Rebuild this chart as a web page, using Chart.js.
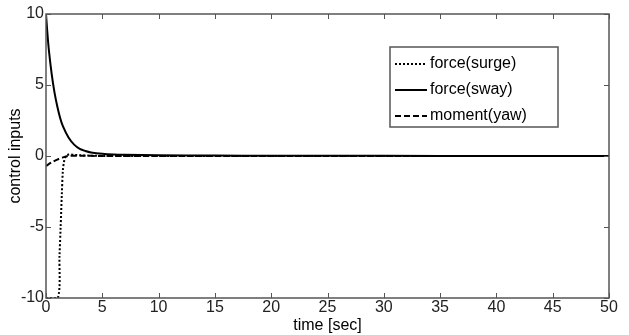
<!DOCTYPE html>
<html>
<head>
<meta charset="utf-8">
<script src="https://cdn.jsdelivr.net/npm/chart.js@4/dist/chart.umd.min.js"></script>
<style>
  html, body { margin: 0; padding: 0; background: #fff; }
  #wrap { width: 629px; height: 335px; position: relative; }
</style>
</head>
<body>
<div id="wrap"><canvas id="chart"></canvas></div>
<script>
// values
const xTicks = [0, 5, 10, 15, 20, 25, 30, 35, 40, 45, 50];
const yTicks = [-10, -5, 0, 5, 10];

const surgeTime = [0, 1.05, 1.2, 1.3, 1.4, 1.5, 1.6, 1.7, 2.0, 2.5, 3, 4, 6, 10, 20, 30, 40, 50];
const surgeVals = [-10, -10, -7, -5, -2.8, -1, -0.4, -0.1, 0.1, 0.08, 0.05, 0.02, 0, 0, 0, 0, 0, 0];

const swayTime = [0, 0.1, 0.25, 0.5, 0.75, 1, 1.25, 1.5, 2, 2.5, 3, 3.5, 4, 5, 6, 7, 10, 15, 20, 30, 40, 50];
const swayVals = [10, 8.9, 7.5, 5.8, 4.5, 3.5, 2.7, 2.1, 1.3, 0.8, 0.5, 0.35, 0.25, 0.15, 0.1, 0.08, 0.05, 0.03, 0.02, 0.01, 0, 0];

const yawTime = [0, 0.5, 1, 1.5, 2, 3, 5, 10, 20, 30, 40, 50];
const yawVals = [-0.7, -0.45, -0.25, -0.1, 0, 0.02, 0, 0, 0, 0, 0, 0];

const labels = ['force(surge)', 'force(sway)', 'moment(yaw)'];
const dashes = [[2, 2], [], [6, 3]];

const toPts = (t, v) => t.map((x, i) => ({ x: x, y: v[i] }));

const FONT = 'Liberation Sans, Arial, sans-serif';

// box, inward ticks on all four sides, and the legend box
const matlabFrame = {
    id: 'matlabFrame',
    afterDatasetsDraw(chart) {
        const { ctx, chartArea: a, scales } = chart;
        ctx.save();
        ctx.strokeStyle = '#555';
        ctx.lineWidth = 1.5;
        ctx.setLineDash([]);
        ctx.strokeRect(a.left, a.top, a.right - a.left, a.bottom - a.top);
        ctx.lineWidth = 1;
        const len = 5;
        xTicks.forEach(v => {
            const px = Math.round(scales.x.getPixelForValue(v)) + 0.5;
            ctx.beginPath();
            ctx.moveTo(px, a.bottom); ctx.lineTo(px, a.bottom - len);
            ctx.moveTo(px, a.top); ctx.lineTo(px, a.top + len);
            ctx.stroke();
        });
        yTicks.forEach(v => {
            const py = Math.round(scales.y.getPixelForValue(v)) + 0.5;
            ctx.beginPath();
            ctx.moveTo(a.left, py); ctx.lineTo(a.left + len, py);
            ctx.moveTo(a.right, py); ctx.lineTo(a.right - len, py);
            ctx.stroke();
        });

        // legend
        const bx = 390, by = 47, bw = 168, bh = 80;
        ctx.fillStyle = '#fff';
        ctx.fillRect(bx, by, bw, bh);
        ctx.strokeStyle = '#555';
        ctx.lineWidth = 1.5;
        ctx.strokeRect(bx, by, bw, bh);
        ctx.font = '16px ' + FONT;
        ctx.textBaseline = 'middle';
        ctx.fillStyle = '#000';
        labels.forEach((lab, i) => {
            const y = by + 17 + i * 26;
            ctx.strokeStyle = '#000';
            ctx.lineWidth = 2;
            ctx.setLineDash(dashes[i]);
            ctx.beginPath();
            ctx.moveTo(bx + 5, y); ctx.lineTo(bx + 37, y);
            ctx.stroke();
            ctx.setLineDash([]);
            ctx.fillText(lab, bx + 40, y);
        });
        ctx.restore();
    }
};

new Chart(document.getElementById('chart').getContext('2d'), {
    type: 'line',
    data: {
        datasets: [
            { label: labels[0], data: toPts(surgeTime, surgeVals), borderDash: dashes[0] },
            { label: labels[1], data: toPts(swayTime, swayVals), borderDash: dashes[1] },
            { label: labels[2], data: toPts(yawTime, yawVals), borderDash: dashes[2] }
        ].map(d => Object.assign(d, {
            borderColor: '#000',
            borderWidth: 2,
            pointRadius: 0,
            tension: 0.3,
            fill: false
        }))
    },
    options: {
        responsive: true,
        maintainAspectRatio: false,
        animation: false,
        layout: { padding: { top: 14, right: 20, left: 0, bottom: 0 } },
        plugins: {
            legend: { display: false },
            tooltip: { enabled: false }
        },
        scales: {
            x: {
                type: 'linear',
                min: 0,
                max: 50,
                afterBuildTicks: s => { s.ticks = xTicks.map(v => ({ value: v })); },
                afterFit: s => { s.height = 37; },
                grid: { display: false, drawTicks: false },
                border: { display: false },
                ticks: { color: '#222', font: { family: FONT, size: 16 }, padding: 0, maxRotation: 0 },
                title: { display: true, text: 'time [sec]', color: '#000', font: { family: FONT, size: 16 }, padding: 0 }
            },
            y: {
                type: 'linear',
                min: -10,
                max: 10,
                afterBuildTicks: s => { s.ticks = yTicks.map(v => ({ value: v })); },
                afterFit: s => { s.width = 46; },
                grid: { display: false, drawTicks: false },
                border: { display: false },
                ticks: { color: '#222', font: { family: FONT, size: 16 }, padding: 2 },
                title: { display: true, text: 'control inputs', color: '#000', font: { family: FONT, size: 16 }, padding: { top: 6, bottom: 0 } }
            }
        }
    },
    plugins: [matlabFrame]
});
</script>
</body>
</html>
